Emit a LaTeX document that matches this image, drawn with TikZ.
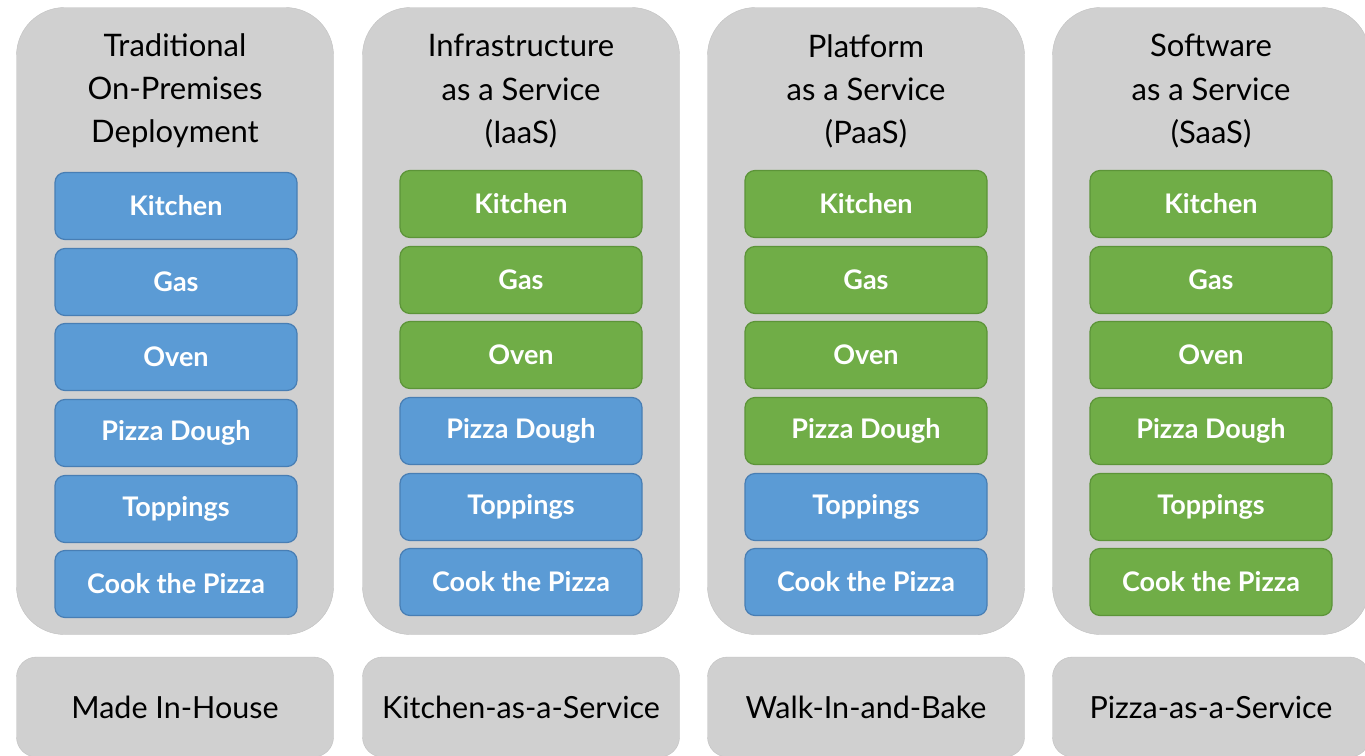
\documentclass[tikz,border=0pt]{standalone}
\usepackage{fontspec}
\setmainfont{Lato}
\usepackage{tikz}
\usetikzlibrary{positioning}
\definecolor{panelgray}{RGB}{208,208,208}
\definecolor{panelline}{RGB}{192,192,192}
\definecolor{selfblue}{RGB}{91,155,213}
\definecolor{selfline}{RGB}{72,126,180}
\definecolor{vendgreen}{RGB}{112,173,71}
\definecolor{vendline}{RGB}{92,148,56}

\begin{document}
\begin{tikzpicture}
[x=1pt, y={(0pt,-1pt)},
panel/.style={rectangle, rounded corners=48pt, fill=panelgray, draw=panelline,
  minimum width=317pt, minimum height=627pt},
model/.style={rectangle, rounded corners=20pt, fill=panelgray, draw=panelline,
  minimum width=317pt, minimum height=100pt, font=\fontsize{30.5}{36}\selectfont},
heading/.style={align=center, font=\fontsize{31}{43}\selectfont},
layer/.style={rectangle, rounded corners=10pt, draw, line width=1.2pt,
  minimum width=242pt, minimum height=67pt, text=white,
  font=\bfseries\fontsize{27}{32}\selectfont},
own/.style={layer, fill=selfblue, draw=selfline},
vendor/.style={layer, fill=vendgreen, draw=vendline}]
\useasboundingbox (0,0) rectangle (1365,755);

% panels
\node (c1) at (175,321) [panel] {};
\node (c2) at (521,321) [panel] {};
\node (c3) at (866,321) [panel] {};
\node (c4) at (1211,321) [panel] {};

\node (h1) at (175,91) [heading] {Traditional\\On-Premises\\Deployment};
\node (h2) at (521,91) [heading] {Infrastructure\\as a Service\\(IaaS)};
\node (h3) at (866,91) [heading] {Platform\\as a Service\\(PaaS)};
\node (h4) at (1211,91) [heading] {Software\\as a Service\\(SaaS)};

% on-premises
\node (k1) at (176,206) [own] {Kitchen};
\node (g1) at (176,282) [own] {Gas};
\node (o1) at (176,357) [own] {Oven};
\node (d1) at (176,433) [own] {Pizza Dough};
\node (t1) at (176,509) [own] {Toppings};
\node (p1) at (176,584) [own] {Cook the Pizza};

% iaas
\node (k2) at (521,204) [vendor] {Kitchen};
\node (g2) at (521,280) [vendor] {Gas};
\node (o2) at (521,355) [vendor] {Oven};
\node (d2) at (521,431) [own] {Pizza Dough};
\node (t2) at (521,507) [own] {Toppings};
\node (p2) at (521,582) [own] {Cook the Pizza};

% paas
\node (k3) at (866,204) [vendor] {Kitchen};
\node (g3) at (866,280) [vendor] {Gas};
\node (o3) at (866,355) [vendor] {Oven};
\node (d3) at (866,431) [vendor] {Pizza Dough};
\node (t3) at (866,507) [own] {Toppings};
\node (p3) at (866,582) [own] {Cook the Pizza};

% saas
\node (k4) at (1211,204) [vendor] {Kitchen};
\node (g4) at (1211,280) [vendor] {Gas};
\node (o4) at (1211,355) [vendor] {Oven};
\node (d4) at (1211,431) [vendor] {Pizza Dough};
\node (t4) at (1211,507) [vendor] {Toppings};
\node (p4) at (1211,582) [vendor] {Cook the Pizza};

% bottom labels
\node (m1) at (175,707) [model] {Made In-House};
\node (m2) at (521,707) [model] {Kitchen-as-a-Service};
\node (m3) at (866,707) [model] {Walk-In-and-Bake};
\node (m4) at (1211,707) [model] {Pizza-as-a-Service};

\end{tikzpicture}
\end{document}
